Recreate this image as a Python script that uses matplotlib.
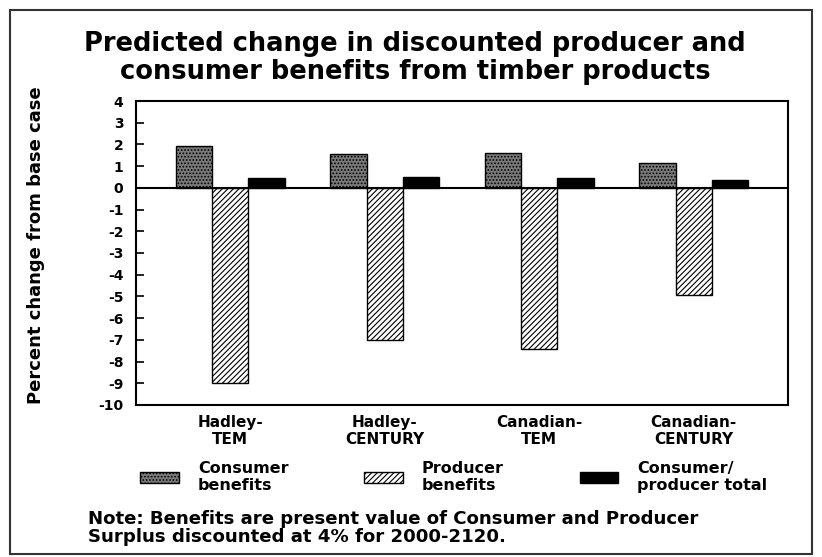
import matplotlib
matplotlib.use("Agg")
import matplotlib.pyplot as plt
import numpy as np
from matplotlib.patches import Rectangle

scenarios = ["Hadley-\nTEM", "Hadley-\nCENTURY", "Canadian-\nTEM", "Canadian-\nCENTURY"]
consumer = [1.92, 1.55, 1.62, 1.15]
producer = [-9.0, -7.0, -7.4, -4.95]
total = [0.45, 0.48, 0.45, 0.38]
yticks = list(range(-10, 5))

plt.rcParams["font.family"] = "DejaVu Sans"
plt.rcParams["font.weight"] = "bold"
plt.rcParams["hatch.linewidth"] = 0.8

W, H = 822, 557
fig = plt.figure(figsize=(W / 100, H / 100), dpi=100)
ax = fig.add_axes([136 / W, 1 - 405 / H, (788 - 136) / W, (405 - 101) / H])

x = np.arange(len(scenarios))
w = 0.235
b1 = ax.bar(x - w, consumer, w, color="#7a7a7a", edgecolor="black", hatch=".....",
            linewidth=1.0, label="Consumer\nbenefits")
b2 = ax.bar(x, producer, w, color="white", edgecolor="black", hatch="//////",
            linewidth=1.0, label="Producer\nbenefits")
b3 = ax.bar(x + w, total, w, color="black", edgecolor="black",
            linewidth=1.0, label="Consumer/\nproducer total")
ax.axhline(0, color="black", lw=1.5, zorder=3)

ax.set_xlim(-0.61, 3.61)
ax.set_ylim(-10, 4)
ax.set_yticks(yticks)
ax.set_yticklabels([str(t) for t in yticks], fontsize=10, fontweight="bold")
ax.tick_params(axis="y", direction="in", length=6, width=1.2, pad=9)
ax.set_xticks(x)
ax.set_xticklabels(scenarios, fontsize=11, fontweight="bold", linespacing=1.2)
ax.tick_params(axis="x", length=0, pad=7)
for s in ax.spines.values():
    s.set_linewidth(1.5)

fig.text(0.505, 1 - 58 / H,
         "Predicted change in discounted producer and\nconsumer benefits from timber products",
         ha="center", va="center", fontsize=18.5, fontweight="bold", linespacing=1.08)
fig.text(36 / W, 1 - 245 / H, "Percent change from base case", rotation=90,
         ha="center", va="center", fontsize=13, fontweight="bold")

fig.legend(handles=[b1, b2, b3], loc="center left", bbox_to_anchor=(126 / W, 1 - 477 / H),
           ncol=3, frameon=False, fontsize=11.5, handlelength=2.4, handleheight=0.7,
           handletextpad=1.2, columnspacing=4.75)

fig.text(88 / W, 1 - 528 / H,
         "Note: Benefits are present value of Consumer and Producer\nSurplus discounted at 4% for 2000-2120.",
         ha="left", va="center", fontsize=13.1, fontweight="bold", linespacing=1.05)

fig.add_artist(Rectangle((10 / W, 3 / H), (812 - 10) / W, (547 - 3) / H,
                         transform=fig.transFigure, fill=False, lw=1.5, ec="#333333"))

fig.savefig("out.png", dpi=100)
